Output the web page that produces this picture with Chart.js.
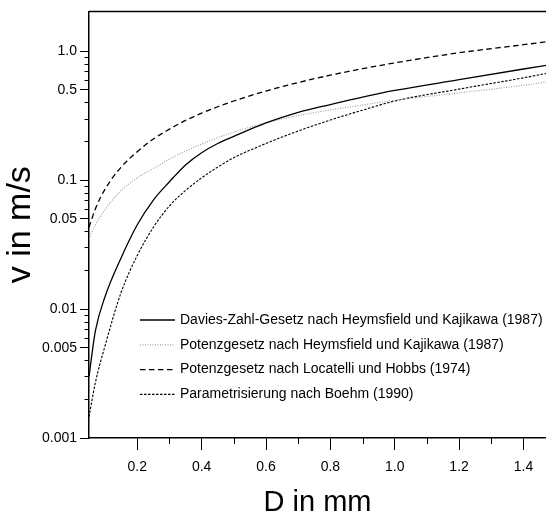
<!DOCTYPE html>
<html><head><meta charset="utf-8">
<script src="https://cdn.jsdelivr.net/npm/chart.js@4/dist/chart.umd.min.js"></script>
<style>html,body{margin:0;padding:0;background:#fff;}#wrap{width:546px;height:518px;}</style>
</head><body><div id="wrap"><canvas id="c" width="546" height="518"></canvas></div>
<script>
const diameters      = [0.05, 0.07, 0.1, 0.15, 0.2, 0.25, 0.3, 0.35, 0.4, 0.45, 0.5, 0.6, 0.7, 0.8, 0.9, 1.0, 1.2, 1.4, 1.47];
const daviesZahl     = [0.003, 0.0068, 0.0125, 0.025, 0.045, 0.070, 0.097, 0.131, 0.163, 0.192, 0.218, 0.277, 0.335, 0.385, 0.44, 0.495, 0.60, 0.726, 0.775];
const potenzHK       = [0.035, 0.045, 0.059, 0.083, 0.104, 0.123, 0.145, 0.168, 0.19, 0.213, 0.235, 0.278, 0.316, 0.35, 0.382, 0.415, 0.474, 0.543, 0.575];
const locatelliHobbs = [0.043, 0.060, 0.085, 0.126, 0.166, 0.208, 0.248, 0.29, 0.33, 0.37, 0.41, 0.49, 0.57, 0.65, 0.73, 0.81, 0.97, 1.12, 1.18];
const boehm          = [0.00146, 0.0027, 0.0052, 0.0135, 0.026, 0.043, 0.063, 0.083, 0.104, 0.126, 0.149, 0.192, 0.240, 0.292, 0.348, 0.41, 0.507, 0.62, 0.67];

const seriesLabels = [
  'Davies-Zahl-Gesetz nach Heymsfield und Kajikawa (1987)',
  'Potenzgesetz nach Heymsfield und Kajikawa (1987)',
  'Potenzgesetz nach Locatelli und Hobbs (1974)',
  'Parametrisierung nach Boehm (1990)'
];

const xMajorTicks  = [0.2, 0.4, 0.6, 0.8, 1.0, 1.2, 1.4];
const xMajorLabels = ['0.2', '0.4', '0.6', '0.8', '1.0', '1.2', '1.4'];
const xMinorTicks  = [0.3, 0.5, 0.7, 0.9, 1.1, 1.3];
const yMajorTicks  = [0.001, 0.005, 0.01, 0.05, 0.1, 0.5, 1.0];
const yMajorLabels = ['0.001', '0.005', '0.01', '0.05', '0.1', '0.5', '1.0'];
const yMinorTicks  = [0.002, 0.003, 0.004, 0.006, 0.007, 0.008, 0.009,
                      0.02, 0.03, 0.04, 0.06, 0.07, 0.08, 0.09,
                      0.2, 0.3, 0.4, 0.6, 0.7, 0.8, 0.9];

const FONT = "'Liberation Sans', Arial, sans-serif";

function pts(arr) { return diameters.map((d, i) => ({x: d, y: arr[i]})); }

const styles = [
  {borderColor: '#000', borderWidth: 1.3, borderDash: []},
  {borderColor: '#a0a0a0', borderWidth: 1.2, borderDash: [1, 1.5]},
  {borderColor: '#000', borderWidth: 1.3, borderDash: [5.5, 3.5]},
  {borderColor: '#000', borderWidth: 1.1, borderDash: [2.5, 1.5]}
];
const seriesData = [daviesZahl, potenzHK, locatelliHobbs, boehm];

const datasets = seriesData.map((s, i) => Object.assign({
  label: seriesLabels[i],
  data: pts(s),
  pointRadius: 0,
  fill: false,
  cubicInterpolationMode: 'monotone'
}, styles[i]));

const extras = {
  id: 'extras',
  afterDraw(chart) {
    const {ctx, chartArea: ca, scales: {x, y}} = chart;
    ctx.save();
    ctx.strokeStyle = '#000';
    ctx.lineWidth = 1;
    ctx.setLineDash([]);
    yMinorTicks.forEach(v => {
      const py = Math.round(y.getPixelForValue(v)) + 0.5;
      ctx.beginPath(); ctx.moveTo(ca.left - 4.5, py); ctx.lineTo(ca.left, py); ctx.stroke();
    });
    xMinorTicks.forEach(v => {
      const px = Math.round(x.getPixelForValue(v)) + 0.5;
      ctx.beginPath(); ctx.moveTo(px, ca.bottom); ctx.lineTo(px, ca.bottom + 6); ctx.stroke();
    });
    ctx.lineWidth = 1.5;
    ctx.beginPath(); ctx.moveTo(ca.left, ca.top); ctx.lineTo(ca.right, ca.top); ctx.stroke();
    ctx.font = '14px ' + FONT;
    ctx.textBaseline = 'middle';
    ctx.fillStyle = '#000';
    chart.data.datasets.forEach((ds, i) => {
      const yy = 320 + i * 24.8;
      ctx.strokeStyle = ds.borderColor;
      ctx.lineWidth = ds.borderWidth;
      ctx.setLineDash(ds.borderDash || []);
      ctx.beginPath(); ctx.moveTo(140, yy); ctx.lineTo(175, yy); ctx.stroke();
      ctx.setLineDash([]);
      ctx.fillText(ds.label, 180, yy);
    });
    ctx.restore();
  }
};

new Chart(document.getElementById('c'), {
  type: 'line',
  data: {datasets},
  options: {
    responsive: false,
    devicePixelRatio: 1,
    animation: false,
    layout: {padding: {top: 11, right: 0, left: 0, bottom: 0}},
    plugins: {legend: {display: false}, tooltip: {enabled: false}},
    scales: {
      x: {
        type: 'linear', min: 0.05, max: 1.47,
        afterBuildTicks: s => { s.ticks = xMajorTicks.map(v => ({value: v})); },
        afterFit: s => { s.height = 80; },
        ticks: {autoSkip: false, maxRotation: 0, padding: 9, color: '#000',
                font: {size: 14, family: FONT},
                callback: (v, i) => xMajorLabels[i]},
        grid: {display: true, drawOnChartArea: false, drawTicks: true, tickLength: 12, tickColor: '#000', tickWidth: 1},
        border: {display: true, color: '#000', width: 1.5},
        title: {display: true, text: 'D in mm', color: '#000',
                font: {size: 29, family: FONT, lineHeight: 1},
                padding: {top: 0, bottom: 1}}
      },
      y: {
        type: 'logarithmic', min: 0.001, max: 2.03,
        afterBuildTicks: s => { s.ticks = yMajorTicks.map(v => ({value: v})); },
        afterFit: s => { s.width = 89; },
        ticks: {autoSkip: false, padding: 3, color: '#000',
                font: {size: 14, family: FONT},
                callback: (v, i) => yMajorLabels[i]},
        grid: {display: true, drawOnChartArea: false, drawTicks: true, tickLength: 9, tickColor: '#000', tickWidth: 1},
        border: {display: true, color: '#000', width: 1.5},
        title: {display: true, text: 'v in m/s', color: '#000',
                font: {size: 34, family: FONT, lineHeight: 1},
                padding: {top: 4, bottom: 0}}
      }
    }
  },
  plugins: [extras]
});
</script></body></html>
